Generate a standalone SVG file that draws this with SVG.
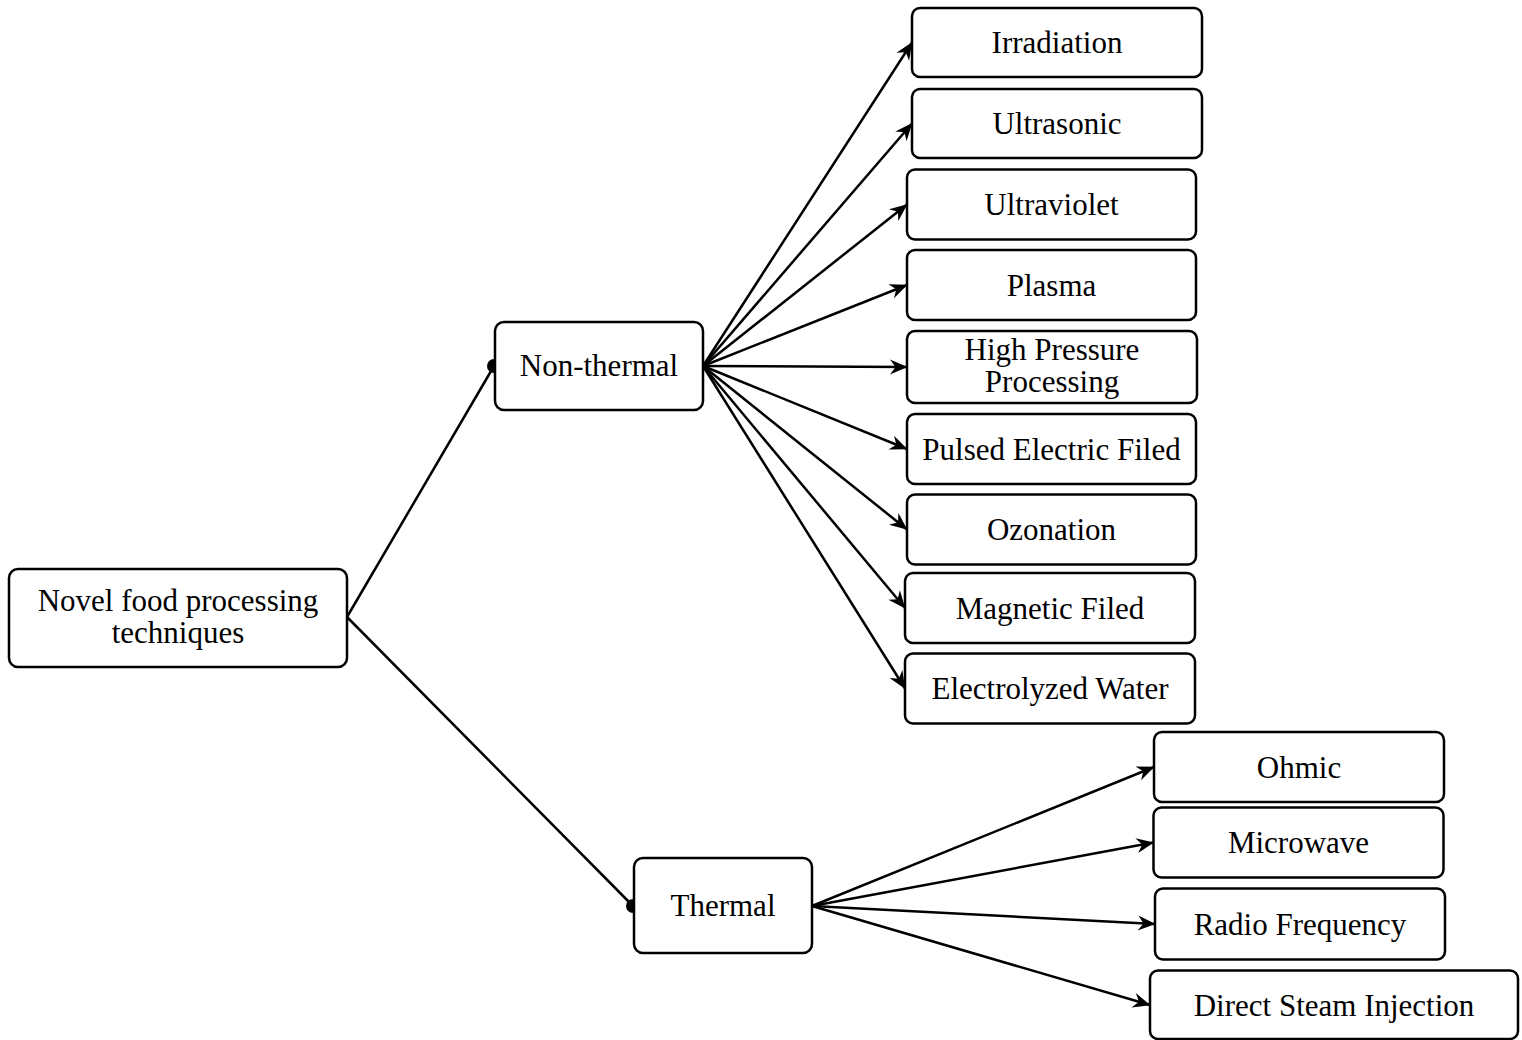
<svg xmlns="http://www.w3.org/2000/svg" width="1522" height="1040" viewBox="0 0 1522 1040">
<style>
.n rect{fill:#fff;stroke:#000;stroke-width:2.5}
.n text{font-family:"Liberation Serif","Times New Roman",serif;font-size:31px;fill:#000;text-anchor:middle}
.e line{stroke:#000;stroke-width:2.5}
</style>
<defs>
<marker id="ar" markerUnits="userSpaceOnUse" markerWidth="19" markerHeight="17" viewBox="0 0 19 17" refX="17.5" refY="8.5" orient="auto" overflow="visible">
<path d="M0.5,1 L18,8.5 L0.5,16 L6,8.5 Z" fill="#000"/>
</marker>
</defs>
<rect width="1522" height="1040" fill="#fff"/>
<g id="connectors" class="e">
<line x1="347" y1="617" x2="494" y2="366"/>
<line x1="347" y1="617" x2="633" y2="906"/>
<circle cx="494" cy="366" r="7" fill="#000"/>
<circle cx="633" cy="906" r="7" fill="#000"/>
<line x1="703" y1="366" x2="912" y2="42.5" marker-end="url(#ar)"/>
<line x1="703" y1="366" x2="912" y2="123.5" marker-end="url(#ar)"/>
<line x1="703" y1="366" x2="907" y2="204.5" marker-end="url(#ar)"/>
<line x1="703" y1="366" x2="907" y2="285" marker-end="url(#ar)"/>
<line x1="703" y1="366" x2="907" y2="367" marker-end="url(#ar)"/>
<line x1="703" y1="366" x2="907" y2="449" marker-end="url(#ar)"/>
<line x1="703" y1="366" x2="907" y2="529.5" marker-end="url(#ar)"/>
<line x1="703" y1="366" x2="905" y2="608" marker-end="url(#ar)"/>
<line x1="703" y1="366" x2="905" y2="688.5" marker-end="url(#ar)"/>
<line x1="812" y1="906" x2="1154" y2="767" marker-end="url(#ar)"/>
<line x1="812" y1="906" x2="1153.5" y2="842.5" marker-end="url(#ar)"/>
<line x1="812" y1="906" x2="1155" y2="924" marker-end="url(#ar)"/>
<line x1="812" y1="906" x2="1150" y2="1005" marker-end="url(#ar)"/>
</g>
<g id="root" class="n"><rect x="9" y="569" width="338" height="98" rx="9"/><text x="178" y="611">Novel food processing</text><text x="178" y="643">techniques</text></g>
<g id="nonthermal" class="n"><rect x="495" y="322" width="208" height="88" rx="9"/><text x="599" y="376">Non-thermal</text></g>
<g id="thermal" class="n"><rect x="634" y="858" width="178" height="95" rx="9"/><text x="723" y="916">Thermal</text></g>
<g id="irradiation" class="n"><rect x="912" y="8" width="290" height="69" rx="8"/><text x="1057" y="53">Irradiation</text></g>
<g id="ultrasonic" class="n"><rect x="912" y="89" width="290" height="69" rx="8"/><text x="1057" y="134">Ultrasonic</text></g>
<g id="ultraviolet" class="n"><rect x="907" y="169.5" width="289" height="70" rx="8"/><text x="1051.5" y="215">Ultraviolet</text></g>
<g id="plasma" class="n"><rect x="907" y="250" width="289" height="70" rx="8"/><text x="1051.5" y="295.5">Plasma</text></g>
<g id="hpp" class="n"><rect x="907" y="331" width="290" height="72" rx="8"/><text x="1052" y="360">High Pressure</text><text x="1052" y="392">Processing</text></g>
<g id="pef" class="n"><rect x="907" y="414" width="289" height="70" rx="8"/><text x="1051.5" y="459.5">Pulsed Electric Filed</text></g>
<g id="ozonation" class="n"><rect x="907" y="494.5" width="289" height="70" rx="8"/><text x="1051.5" y="540">Ozonation</text></g>
<g id="magnetic" class="n"><rect x="905" y="573" width="290" height="70" rx="8"/><text x="1050" y="618.5">Magnetic Filed</text></g>
<g id="electrolyzed" class="n"><rect x="905" y="653.5" width="290" height="70" rx="8"/><text x="1050" y="699">Electrolyzed Water</text></g>
<g id="ohmic" class="n"><rect x="1154" y="732" width="290" height="70" rx="8"/><text x="1299" y="777.5">Ohmic</text></g>
<g id="microwave" class="n"><rect x="1153.5" y="807.5" width="290" height="70" rx="8"/><text x="1298.5" y="853">Microwave</text></g>
<g id="radiofreq" class="n"><rect x="1155" y="888.5" width="290" height="71" rx="8"/><text x="1300" y="934.5">Radio Frequency</text></g>
<g id="dsi" class="n"><rect x="1150" y="970.5" width="368" height="68.5" rx="8"/><text x="1334" y="1016">Direct Steam Injection</text></g>
</svg>
